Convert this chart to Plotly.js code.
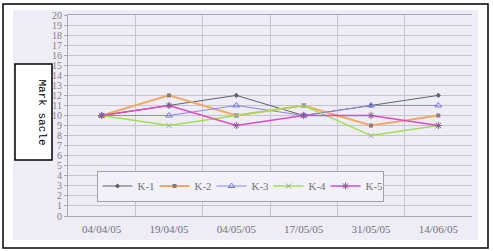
<!DOCTYPE html>
<html><head><meta charset="utf-8">
<script src="https://cdn.plot.ly/plotly-3.0.1.min.js"></script>
<style>html,body{margin:0;padding:0;background:#fff}#c{width:493px;height:251px}</style>
</head><body><div id="c"></div>
<script>
const dates = ["04/04/05","19/04/05","04/05/05","17/05/05","31/05/05","14/06/05"];
const k1 = [10,11,12,10,11,12];
const k2 = [10,12,10,11,9,10];
const k3 = [10,10,11,10,11,11];
const k4 = [10,9,10,11,8,9];
const k5 = [10,11,9,10,10,9];
const names = ["K-1","K-2","K-3","K-4","K-5"];
const yTicks = [0,1,2,3,4,5,6,7,8,9,10,11,12,13,14,15,16,17,18,19,20];

const series = [k1,k2,k3,k4,k5];
const styles = [
  {line:{color:'#60606c',width:1}, marker:{symbol:'diamond',size:4,color:'#60606c'}},
  {line:{color:'#f2a866',width:2}, marker:{symbol:'square',size:4,color:'#8a7a78'}},
  {line:{color:'#8a86e8',width:1}, marker:{symbol:'triangle-up-open',size:6,color:'#7a76e0'}},
  {line:{color:'#a0e050',width:1.5}, marker:{symbol:'x-thin-open',size:5,color:'#a0a0a0',line:{width:1,color:'#909090'}}},
  {line:{color:'#e048c4',width:1.5}, marker:{symbol:'asterisk-open',size:6,color:'#8a5a90',line:{width:1,color:'#8a5a90'}}}
];
const traces = series.map((s,i)=>Object.assign({
  type:'scatter', mode:'lines+markers', x:dates, y:s, name:names[i]
}, styles[i]));

const X = px => (px-68)/404;
const Y = py => (216-py)/201;
const serif = "Liberation Serif";
const layout = {
  width:493, height:251,
  margin:{l:68,r:21,t:15,b:35},
  paper_bgcolor:'#ffffff', plot_bgcolor:'rgba(0,0,0,0)',
  showlegend:true,
  legend:{orientation:'h', x:X(240), xanchor:'center', y:Y(186), yanchor:'middle',
    bgcolor:'#f2f1f8', bordercolor:'#a0a0b0', borderwidth:1,
    font:{family:serif,size:11,color:'#707078'}, itemwidth:30, entrywidth:12, tracegroupgap:0},
  xaxis:{type:'category', tickson:'boundaries', showgrid:true, gridcolor:'#c4c4d0', gridwidth:1,
    ticks:'', range:[-0.5,5.5], showline:true, linecolor:'#a8a8b4', linewidth:1, mirror:true,
    tickfont:{family:serif,size:11,color:'#707078'}, ticklabelstandoff:3, zeroline:false},
  yaxis:{range:[0,20], tickvals:yTicks, ticktext:yTicks.map(String), showgrid:true, gridcolor:'#c4c4d0',
    ticks:'outside', ticklen:3, tickcolor:'#a8a8b4', showline:true, linecolor:'#a8a8b4', zeroline:false,
    tickfont:{family:serif,size:10,color:'#808088'}, ticklabelstandoff:0},
  shapes:[
    {type:'rect', xref:'paper', yref:'paper', x0:X(13), x1:X(478), y0:Y(240), y1:Y(10),
     fillcolor:'#eeedf6', line:{width:0}, layer:'below'},
    {type:'rect', xref:'paper', yref:'paper', x0:X(3), x1:X(488), y0:Y(248), y1:Y(4),
     fillcolor:'rgba(0,0,0,0)', line:{width:1.5,color:'#000'}, layer:'above'},
    {type:'rect', xref:'paper', yref:'paper', x0:X(15), x1:X(52), y0:Y(160), y1:Y(64),
     fillcolor:'#ffffff', line:{width:1.5,color:'#000'}, layer:'above'}
  ],
  annotations:[
    {xref:'paper', yref:'paper', x:X(33.5), y:Y(112), text:'Mark sacle', textangle:90,
     showarrow:false, font:{family:'Liberation Mono', size:11, color:'#000'}}
  ]
};
Plotly.newPlot('c', traces, layout, {displayModeBar:false, staticPlot:true});
</script></body></html>
